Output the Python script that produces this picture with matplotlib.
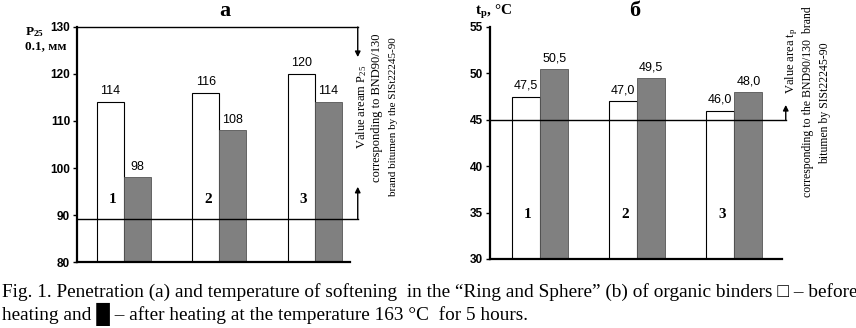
import matplotlib.pyplot as plt
import numpy as np

plt.rcParams["mathtext.default"] = "regular"

# --- data ---
groups = ["1", "2", "3"]
pen_before = [114, 116, 120]
pen_after = [98, 108, 114]
soft_before = [47.5, 47.0, 46.0]
soft_after = [50.5, 49.5, 48.0]
soft_before_lbl = ["47,5", "47,0", "46,0"]
soft_after_lbl = ["50,5", "49,5", "48,0"]
pen_ticks = [80, 90, 100, 110, 120, 130]
soft_ticks = [30, 35, 40, 45, 50, 55]
pen_norm_low, pen_norm_high = 89.2, 130
soft_norm_low = 45

serif = "Liberation Serif"
sans = "Liberation Sans"
grey = "#808080"

fig = plt.figure(figsize=(8.56, 3.28), dpi=100)
x = np.arange(len(groups))


def style_axis(ax, ticks):
    for s in ("top", "right"):
        ax.spines[s].set_visible(False)
    ax.spines["left"].set_linewidth(1.6)
    ax.spines["bottom"].set_linewidth(1.6)
    ax.set_yticks(ticks)
    ax.set_ylim(ticks[0], ticks[-1])
    ax.set_yticklabels([str(t) for t in ticks], family=sans, fontweight="bold", fontsize=8.5)
    ax.tick_params(axis="y", length=3, width=1, pad=2)
    ax.set_xticks([])


# ---------- (a) penetration ----------
ax1 = fig.add_axes([0.09, 0.2012, 0.319, 0.7165])
w1 = 0.283
ax1.bar(x - w1 / 2, pen_before, w1, color="white", edgecolor="black", linewidth=0.8)
ax1.bar(x + w1 / 2, pen_after, w1, color=grey, edgecolor="#555555", linewidth=0.6)
ax1.set_xlim(-0.49, 2.37)
style_axis(ax1, pen_ticks)
for xi, b, a in zip(x, pen_before, pen_after):
    ax1.text(xi - w1 / 2, b + 1, str(b), ha="center", va="bottom", family=sans, fontsize=9)
    ax1.text(xi + w1 / 2, a + 1, str(a), ha="center", va="bottom", family=sans, fontsize=9)
for xi, g in zip(x, groups):
    ax1.text(xi - w1 / 2 + 0.02, 93.2, g, ha="center", va="center", family=serif,
             fontweight="bold", fontsize=11)
xr = 2.45
ax1.plot([-0.49, xr], [pen_norm_low, pen_norm_low], color="black", lw=1, clip_on=False)
ax1.plot([-0.49, xr], [pen_norm_high, pen_norm_high], color="black", lw=1, clip_on=False)
ax1.annotate("", xy=(xr, 123.6), xytext=(xr, pen_norm_high),
             arrowprops=dict(arrowstyle="-|>", color="black", lw=1, mutation_scale=8,
                             shrinkA=0, shrinkB=0), annotation_clip=False)
ax1.annotate("", xy=(xr, 96), xytext=(xr, pen_norm_low),
             arrowprops=dict(arrowstyle="-|>", color="black", lw=1, mutation_scale=8,
                             shrinkA=0, shrinkB=0), annotation_clip=False)
fig.text(225 / 856, 1 - 11 / 328, "а", ha="center", va="center", family=serif,
         fontweight="bold", fontsize=16)
fig.text(25 / 856, 1 - 32 / 328, "P$_{25}$", ha="left", va="center", family=serif,
         fontweight="bold", fontsize=9.5)
fig.text(25 / 856, 1 - 46 / 328, "0.1, мм", ha="left", va="center", family=serif,
         fontweight="bold", fontsize=9.5)
fig.text(362 / 856, 1 - 107 / 328, "Value aream P$_{25}$", rotation=90, ha="center",
         va="center", family=serif, fontsize=9)
fig.text(377 / 856, 1 - 108 / 328, "corresponding to BND90/130", rotation=90, ha="center",
         va="center", family=serif, fontsize=9)
fig.text(393 / 856, 1 - 117 / 328, "brand bitumen by the SISt22245-90", rotation=90,
         ha="center", va="center", family=serif, fontsize=8)

# ---------- (б) softening temperature ----------
ax2 = fig.add_axes([0.5724, 0.2104, 0.341, 0.7073])
w2 = 0.29
ax2.bar(x - w2 / 2, soft_before, w2, color="white", edgecolor="black", linewidth=0.8)
ax2.bar(x + w2 / 2, soft_after, w2, color=grey, edgecolor="#555555", linewidth=0.6)
ax2.set_xlim(-0.515, 2.49)
style_axis(ax2, soft_ticks)
for xi, b, a, bl, al in zip(x, soft_before, soft_after, soft_before_lbl, soft_after_lbl):
    ax2.text(xi - w2 / 2, b + 0.5, bl, ha="center", va="bottom", family=sans, fontsize=9)
    ax2.text(xi + w2 / 2, a + 0.5, al, ha="center", va="bottom", family=sans, fontsize=9)
for xi, g in zip(x, groups):
    ax2.text(xi - w2 / 2 + 0.02, 34.8, g, ha="center", va="center", family=serif,
             fontweight="bold", fontsize=11)
xr2 = 2.53
ax2.plot([-0.515, xr2], [soft_norm_low, soft_norm_low], color="black", lw=1, clip_on=False)
ax2.annotate("", xy=(xr2, 46.6), xytext=(xr2, soft_norm_low),
             arrowprops=dict(arrowstyle="-|>", color="black", lw=1, mutation_scale=8,
                             shrinkA=0, shrinkB=0), annotation_clip=False)
fig.text(635 / 856, 1 - 11 / 328, "б", ha="center", va="center", family=serif,
         fontweight="bold", fontsize=16)
fig.text(475 / 856, 1 - 12 / 328, "t$_{p}$, °C", ha="left", va="center", family=serif,
         fontweight="bold", fontsize=11)
fig.text(792 / 856, 1 - 61 / 328, "Value area t$_{p}$", rotation=90, ha="center",
         va="center", family=serif, fontsize=9)
fig.text(808 / 856, 1 - 102 / 328, "corresponding to the BND90/130  brand", rotation=90,
         ha="center", va="center", family=serif, fontsize=8.5)
fig.text(825 / 856, 1 - 103 / 328, "bitumen by SISt22245-90", rotation=90, ha="center",
         va="center", family=serif, fontsize=8.5)

# ---------- caption ----------
cap_font = [serif, "DejaVu Sans"]
fig.text(2 / 856, 1 - 292 / 328,
         "Fig. 1. Penetration (a) and temperature of softening  in the \u201cRing and Sphere\u201d "
         "(b) of organic binders \u25a1 \u2013 before",
         ha="left", va="center", family=cap_font, fontsize=13.85)
fig.text(2 / 856, 1 - 314 / 328,
         "heating and \u2588 \u2013 after heating at the temperature 163 \u00b0C  for 5 hours.",
         ha="left", va="center", family=cap_font, fontsize=13.85)

fig.savefig("out.png", dpi=100)
